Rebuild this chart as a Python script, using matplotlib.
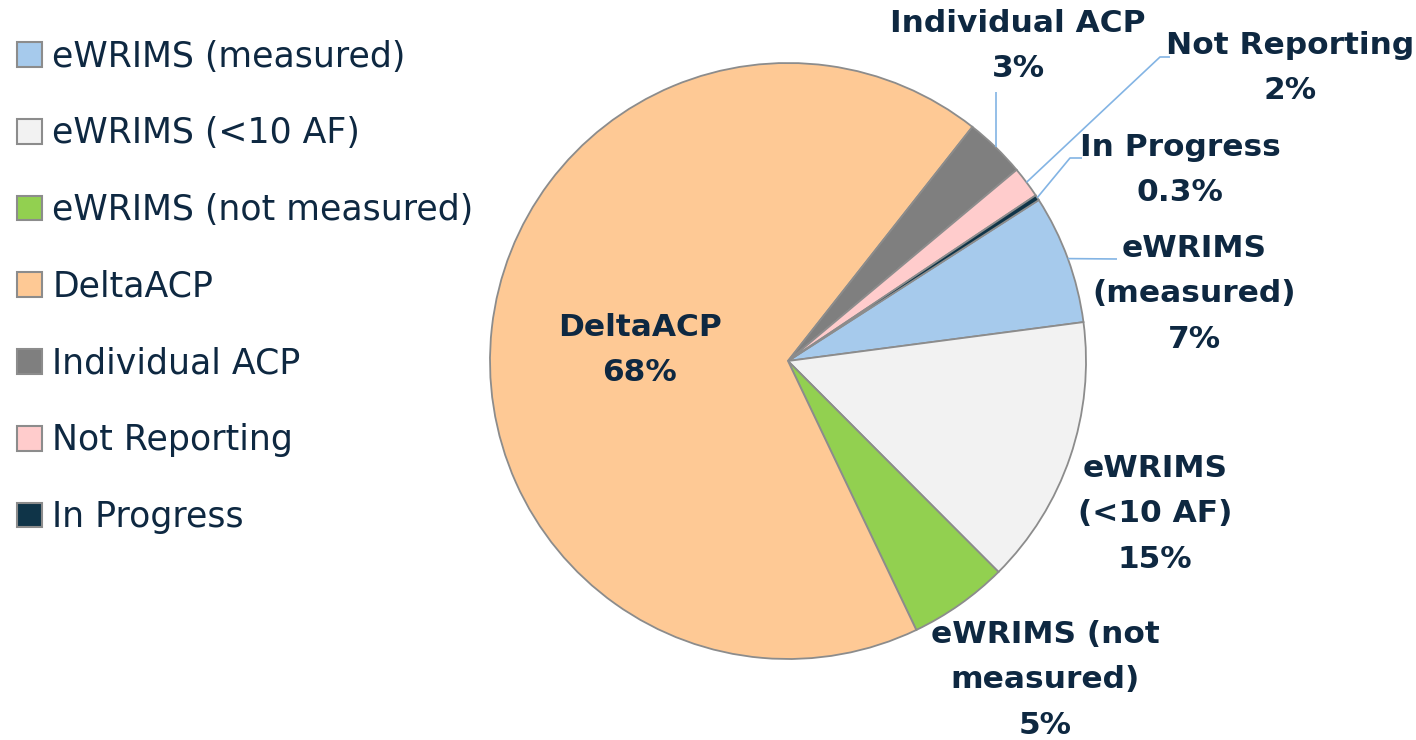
import matplotlib
matplotlib.use("Agg")
import matplotlib.pyplot as plt
import numpy as np

W, H = 1416, 740

categories = ["eWRIMS (measured)", "eWRIMS (<10 AF)", "eWRIMS (not measured)",
              "DeltaACP", "Individual ACP", "Not Reporting", "In Progress"]
shares = [7.0, 14.6, 5.4, 67.7, 3.3, 1.7, 0.3]
pct_labels = ["7%", "15%", "5%", "68%", "3%", "2%", "0.3%"]
label_text = ["eWRIMS\n(measured)", "eWRIMS\n(<10 AF)", "eWRIMS (not\nmeasured)",
              "DeltaACP", "Individual ACP", "Not Reporting", "In Progress"]
colors = ["#A6CAEC", "#F2F2F2", "#92D050", "#FEC995", "#7F7F7F", "#FFCCCC", "#0F3448"]

TXT = "#0E2841"
LEADER = "#83B4E4"

# label centres (pixel coords, origin top-left)
label_pos = [(1194, 294), (1155, 514), (1045, 680), (640, 350),
             (1018, 46), (1290, 68), (1180, 170)]
# leader lines: extra points after the arc point (pixel coords)
leaders = {
    0: [(1117, 259)],
    4: [(0, 92)],          # vertical line up from arc point
    5: [(1160, 57), (1170, 57)],
    6: [(1070, 158), (1082, 158)],
}

fig = plt.figure(figsize=(W / 100, H / 100), dpi=100)
ax = fig.add_axes([0, 0, 1, 1])

cx, cy, r = 788, H - 361, 298
wedges, _ = ax.pie(shares, colors=colors, startangle=32.7, counterclock=False,
                   center=(cx, cy), radius=r, frame=True,
                   wedgeprops=dict(edgecolor="#8C8C8C", linewidth=1.3))
ax.set_xlim(0, W)
ax.set_ylim(0, H)
ax.axis("off")

for i, w in enumerate(wedges):
    x, y = label_pos[i]
    ax.text(x, H - y, label_text[i] + "\n" + pct_labels[i], ha="center", va="center",
            fontsize=22.5, fontweight="bold", color=TXT, linespacing=1.72,
            family="DejaVu Sans")
    if i in leaders:
        mid = np.deg2rad((w.theta1 + w.theta2) / 2)
        ax_ = cx + r * np.cos(mid)
        ay_ = cy + r * np.sin(mid)
        xs, ys = [ax_], [ay_]
        for p in leaders[i]:
            px = ax_ if p[0] == 0 else p[0]
            xs.append(px)
            ys.append(H - p[1])
        ax.plot(xs, ys, color=LEADER, lw=1.2, solid_capstyle="butt")

leg = ax.legend(wedges, categories, loc="upper left", bbox_to_anchor=(0.0022, 0.965),
                frameon=False, fontsize=25, labelcolor=TXT,
                handlelength=0.72, handleheight=0.72, handletextpad=0.3,
                labelspacing=1.23, borderaxespad=0)
for h in leg.legend_handles:
    h.set_edgecolor("#8C8C8C")
    h.set_linewidth(1.5)

fig.savefig("out.png", dpi=100)
